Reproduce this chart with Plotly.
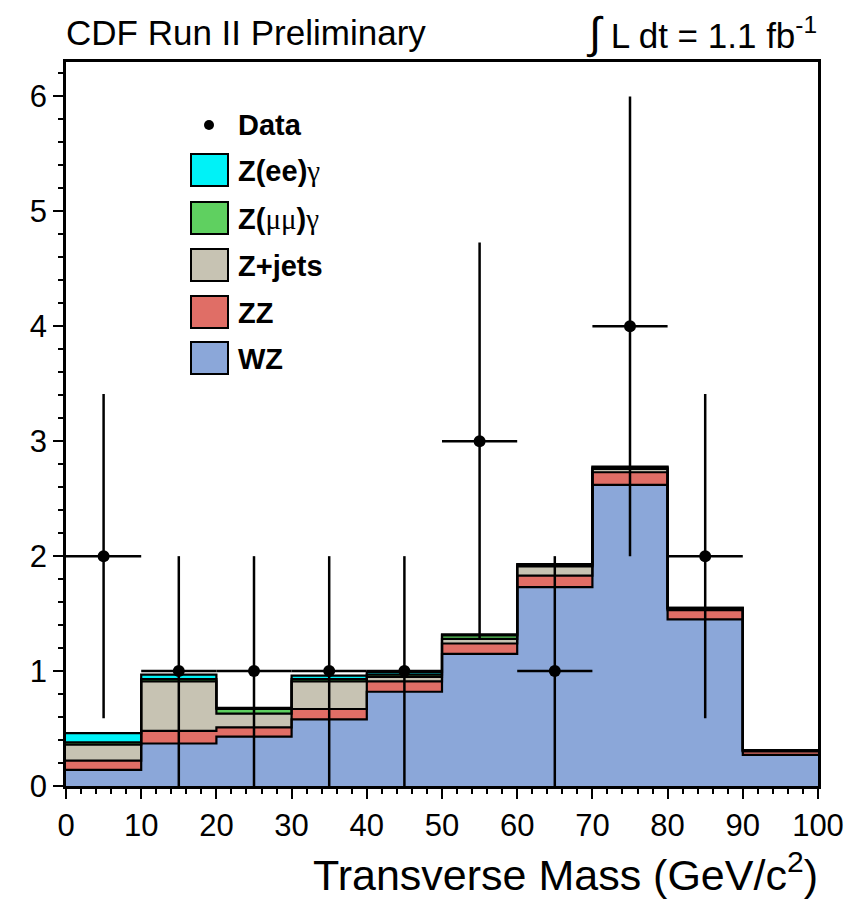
import plotly.graph_objects as go

# ---------------- data ----------------
bin_edges = [0, 10, 20, 30, 40, 50, 60, 70, 80, 90, 100]
bin_centers = [5, 15, 25, 35, 45, 55, 65, 75, 85, 95]

wz      = [0.14, 0.37, 0.43, 0.58, 0.82, 1.15, 1.73, 2.62, 1.45, 0.27]
zz      = [0.08, 0.11, 0.08, 0.09, 0.09, 0.09, 0.10, 0.11, 0.08, 0.03]
zjets   = [0.14, 0.43, 0.12, 0.24, 0.04, 0.04, 0.08, 0.03, 0.01, 0.01]
zmumu   = [0.02, 0.02, 0.04, 0.02, 0.02, 0.03, 0.01, 0.01, 0.01, 0.00]
zee     = [0.08, 0.04, 0.01, 0.03, 0.02, 0.01, 0.01, 0.01, 0.00, 0.00]

data_counts = [2, 1, 1, 1, 1, 3, 1, 4, 2, 0]
data_err    = [1.41, 1.0, 1.0, 1.0, 1.0, 1.73, 1.0, 2.0, 1.41, 0.0]

series = [
    ("WZ", wz, "#8ba7d9"),
    ("ZZ", zz, "#e06e66"),
    ("Z+jets", zjets, "#c7c3b3"),
    ("Z(μμ)γ", zmumu, "#5fd060"),
    ("Z(ee)γ", zee, "#00f2f7"),
]

fig = go.Figure()

# filled stacks
for name, vals, col in series:
    fig.add_trace(go.Bar(x=bin_centers, y=vals, width=10, name=name,
                         marker=dict(color=col, line=dict(width=0)),
                         showlegend=False, hoverinfo="skip"))

# step outlines at every cumulative level
cum = [0.0] * len(bin_centers)
for name, vals, col in series:
    cum = [c + v for c, v in zip(cum, vals)]
    fig.add_trace(go.Scatter(x=bin_edges, y=cum + [cum[-1]], mode="lines",
                             line=dict(color="black", width=2.2, shape="hv"),
                             showlegend=False, hoverinfo="skip"))

# data points
dx = [c for c, n in zip(bin_centers, data_counts) if n > 0]
dy = [n for n in data_counts if n > 0]
de = [e for e, n in zip(data_err, data_counts) if n > 0]
fig.add_trace(go.Scatter(x=dx, y=dy, mode="markers",
                         marker=dict(color="black", size=12),
                         error_y=dict(type="data", array=de, color="black", thickness=2.5, width=0),
                         error_x=dict(type="constant", value=5, color="black", thickness=2.5, width=0),
                         showlegend=False))

# ---------------- layout ----------------
L, R, T, B = 66, 31, 62, 115
W, H = 849, 901
pw, ph = W - L - R, H - T - B

def px(x):
    return (x - L) / pw

def py(y):
    return (H - B - y) / ph

main_font = "Liberation Sans, Arial, Helvetica, sans-serif"
sym = "<span style='font-family:Liberation Serif, DejaVu Serif, serif;font-weight:normal'>%s</span>"

shapes = []
annotations = []
leg_font = dict(family=main_font, size=29, color="black")

# legend: Data
shapes.append(dict(type="circle", xref="paper", yref="paper",
                   x0=px(204), x1=px(214), y0=py(130), y1=py(120),
                   fillcolor="black", line=dict(color="black", width=0)))
annotations.append(dict(xref="paper", yref="paper", x=px(236), y=py(125),
                        text="<b>Data</b>", showarrow=False, xanchor="left", yanchor="middle",
                        font=leg_font))
legend_rows = [("Z(ee)" + sym % "γ", "#00f2f7", 170),
               ("Z(" + sym % "μμ" + ")" + sym % "γ", "#5fd060", 218),
               ("Z+jets", "#c7c3b3", 265), ("ZZ", "#e06e66", 312), ("WZ", "#8ba7d9", 358)]
for name, col, yc in legend_rows:
    shapes.append(dict(type="rect", xref="paper", yref="paper",
                       x0=px(191), x1=px(228), y0=py(yc + 16), y1=py(yc - 16),
                       fillcolor=col, line=dict(color="black", width=2)))
    annotations.append(dict(xref="paper", yref="paper", x=px(236), y=py(yc + 1),
                            text="<b>%s</b>" % name, showarrow=False, xanchor="left",
                            yanchor="middle", font=leg_font))

annotations.append(dict(xref="paper", yref="paper", x=px(64), y=py(33),
                        text="CDF Run II Preliminary", showarrow=False, xanchor="left",
                        yanchor="middle", font=dict(family=main_font, size=35, color="black")))
annotations.append(dict(xref="paper", yref="paper", x=px(819), y=py(33),
                        text="<span style='font-size:44px'>∫</span> L dt = 1.1 fb<sup>-1</sup>",
                        showarrow=False, xanchor="right",
                        yanchor="middle", font=dict(family=main_font, size=35, color="black")))
annotations.append(dict(xref="paper", yref="paper", x=px(820), y=py(872),
                        text="Transverse Mass (GeV/c<sup>2</sup>)", showarrow=False, xanchor="right",
                        yanchor="middle", font=dict(family=main_font, size=43, color="black")))

fig.update_layout(
    width=W, height=H,
    margin=dict(l=L, r=R, t=T, b=B, autoexpand=False),
    paper_bgcolor="white", plot_bgcolor="white",
    barmode="stack", bargap=0,
    showlegend=False,
    shapes=shapes, annotations=annotations,
    font=dict(family=main_font, color="black"),
)
fig.update_xaxes(range=[0, 100], dtick=10, tick0=0, ticks="outside", ticklen=10, tickwidth=2,
                 tickcolor="black", showline=True, linecolor="black", linewidth=2.5, mirror=True,
                 showgrid=False, zeroline=False, tickfont=dict(size=31, family=main_font),
                 automargin=False,
                 minor=dict(dtick=2, ticks="outside", ticklen=5, tickwidth=1.5, tickcolor="black",
                            showgrid=False))
fig.update_yaxes(range=[0, 6.3], dtick=1, tick0=0, ticks="outside", ticklen=10, tickwidth=2,
                 tickcolor="black", showline=True, linecolor="black", linewidth=2.5, mirror=True,
                 showgrid=False, zeroline=False, tickfont=dict(size=31, family=main_font),
                 automargin=False,
                 minor=dict(dtick=0.2, ticks="outside", ticklen=5, tickwidth=1.5, tickcolor="black",
                            showgrid=False))

fig.write_html("out.html", config={"displayModeBar": False},
               post_script="document.body.style.margin='0';document.body.style.padding='0';")
